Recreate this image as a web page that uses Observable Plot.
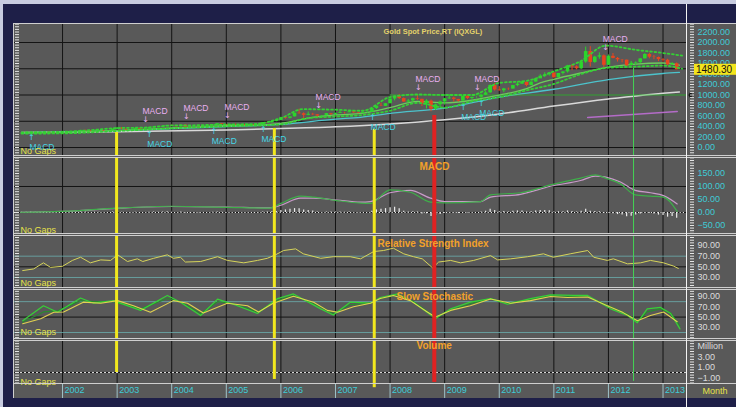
<!DOCTYPE html>
<html><head><meta charset="utf-8">
<script src="https://cdn.jsdelivr.net/npm/d3@7"></script>
<script src="https://cdn.jsdelivr.net/npm/@observablehq/plot@0.6"></script>
<style>
html,body{margin:0;padding:0;background:#1e1f48;}
#chart{position:relative;width:736px;height:407px;background:#1e1f48;overflow:hidden;font-family:"Liberation Sans",Arial,sans-serif;}
#chart .pl{position:absolute;left:0;}
#chart .bx{position:absolute;}
</style></head><body><div id="chart"></div>
<script>
// ---------------- DATA ----------------
const yearTicks = [2002,2003,2004,2005,2006,2007,2008,2009,2010,2011,2012,2013];
const titleText = "Gold Spot Price,RT (IQXGL)";

// monthly candles Apr 2001 .. Apr 2013
const opens = [
 258,264,267,271,266,273,293,279,275,
 277,282,297,302,308,326,318,304,313,324,317,319,
 347,368,347,334,336,364,346,354,375,385,386,398,
 416,400,396,427,388,393,395,391,407,416,428,452,
 438,422,434,428,435,417,437,429,433,473,470,495,
 513,569,556,583,654,643,613,633,623,599,604,646,
 632,650,665,662,680,659,650,666,673,743,789,783,
 834,923,972,933,865,886,930,918,833,884,730,814,
 869,928,942,916,883,975,934,955,955,995,1040,1182,
 1096,1081,1116,1113,1180,1207,1244,1181,1246,1307,1357,1385,
 1421,1332,1410,1439,1556,1536,1500,1628,1828,1620,1722,1746,
 1566,1737,1697,1669,1664,1561,1604,1615,1688,1772,1720,1714,
 1675,1663,1578,1596];
const highs = [
 266,272,275,272,275,294,294,283,280,
 286,298,305,310,329,330,322,315,327,326,322,349,
 383,381,352,340,369,366,360,377,392,395,399,417,
 427,419,429,428,397,396,410,415,418,430,456,457,
 438,438,447,438,436,442,439,439,475,478,496,540,
 575,574,586,654,731,660,677,652,627,610,649,650,
 655,688,670,693,691,669,683,677,744,793,845,837,
 933,978,1011,945,915,940,987,920,912,905,828,885,
 934,1003,960,917,980,988,959,966,1017,1068,1194,1227,
 1161,1128,1133,1183,1248,1265,1244,1250,1307,1388,1424,1431,
 1424,1411,1447,1565,1577,1556,1632,1913,1921,1737,1803,1764,
 1764,1791,1715,1676,1665,1640,1632,1692,1788,1796,1755,1723,
 1694,1680,1617,1611];
const lows = [
 256,262,265,264,265,271,276,273,272,
 276,281,291,300,307,316,302,300,311,311,312,318,
 343,345,321,325,335,342,342,351,372,370,381,396,
 398,392,389,373,371,386,388,390,400,412,423,430,
 418,419,423,423,415,416,418,428,430,462,467,490,
 515,541,545,582,636,543,605,611,573,560,603,610,
 603,647,635,662,650,642,649,654,667,725,778,783,
 834,887,915,864,850,863,897,780,735,682,705,747,
 807,916,866,866,882,913,905,940,931,995,1033,1075,
 1075,1045,1088,1114,1159,1201,1157,1176,1243,1315,1331,1360,
 1308,1330,1381,1418,1463,1478,1483,1604,1534,1604,1681,1522,
 1564,1690,1627,1613,1527,1553,1564,1599,1688,1690,1672,1635,
 1626,1555,1561,1480];
const closes = [
 264,267,271,266,273,293,279,275,277,
 282,297,302,308,326,318,304,313,324,317,319,347,
 368,347,334,336,364,346,354,375,385,386,398,416,
 400,396,427,388,393,395,391,407,416,428,452,438,
 422,434,428,435,417,437,429,433,473,470,495,513,
 569,556,583,654,643,613,633,623,599,604,646,632,
 650,665,662,680,659,650,666,673,743,789,783,834,
 923,972,933,865,886,930,918,833,884,730,814,869,
 928,942,916,883,975,934,955,955,995,1040,1182,1096,
 1081,1116,1113,1180,1207,1244,1181,1246,1307,1357,1385,1421,
 1332,1410,1439,1556,1536,1500,1628,1828,1620,1722,1746,1566,
 1737,1697,1669,1664,1561,1604,1615,1688,1772,1720,1714,1675,
 1663,1578,1596,1480.30];

// overlay lines
const shortMaYears = [2001.25,2002,2002.5,2003,2003.5,2004,2004.5,2005,2005.5,2006,2006.5,2007,2007.5,2008,2008.5,2009,2009.5,2010,2010.5,2010.75,2011,2011.5,2012,2012.5,2013,2013.3];
const shortMa      = [285,290,305,325,345,375,395,415,425,460,560,620,655,760,880,850,900,1000,1120,1230,1300,1420,1530,1590,1610,1570];
const midMaYears = [2001.25,2003,2004,2005,2006,2007,2007.46,2008,2009,2010,2011,2012,2013,2013.3];
const midMa      = [280,320,360,400,440,540,575,650,750,960,1110,1295,1410,1430];
const longMaYears = [2001.25,2003,2005,2006,2007,2008,2009,2010,2011,2012,2013,2013.3];
const longMa      = [285,300,335,360,395,450,530,640,790,925,1035,1058];
const upperYears = [2001.25,2002,2002.5,2003,2003.5,2004,2004.5,2005,2005.5,2006,2006.4,2007,2007.5,2008,2008.5,2009,2009.5,2010,2010.5,2011,2011.5,2011.95,2012.5,2013,2013.35];
const upperBand  = [290,300,330,370,380,420,425,440,445,560,730,720,700,960,1010,1000,1000,1230,1270,1450,1650,1940,1860,1800,1750];
const lowerYears = [2001.25,2002,2003,2004,2005,2006,2006.5,2007,2007.5,2008,2008.5,2009,2009.5,2010,2010.5,2011,2011.5,2012,2012.5,2013,2013.35];
const lowerBand  = [265,270,315,365,405,440,560,590,620,700,850,760,880,960,1090,1210,1400,1520,1540,1560,1500];
const supportLevel = 1000, supportFrom = 2008.0;
const trendYears = [2011.62, 2013.26];
const trendValues = [571, 686];

// MACD signal annotations
const sellYears  = [2003.52,2004.27,2005.02,2006.69,2008.52,2009.60,2011.95];
const sellLevels = [533,590,610,800,1143,1143,1905];
const buyYears   = [2001.43,2003.59,2004.77,2005.68,2007.68,2009.34,2009.67];
const buyLevels  = [190,248,305,343,571,762,838];

// drawn vertical marker lines
const markerYears  = [2002.99,2005.88,2007.71,2008.81,2012.46];
const markerKind   = ["yellow","yellow","yellow","red","green"];
const markerTop    = [286,362,343,610,1505];     // price units
const markerBottom = [0,-1.33,-2.9,-1.9,-1.7];   // volume units

// MACD
const macdYears = [2001.23,2002.0,2003.0,2004.0,2005.0,2005.8,2006.0,2006.36,2006.6,2007.02,2007.46,2007.64,2008.0,2008.37,2008.74,2009.01,2009.66,2009.84,2010.39,2010.94,2011.49,2011.76,2011.95,2012.22,2012.49,2012.77,2013.01,2013.26];
const macdLine  = [1,4,17,24,20,17,35,63,59,46,36,35,87,78,40,37,42,68,76,106,132,145,132,110,68,63,59,4];
const macdSig   = [1,4,16,23,21,18,28,55,55,48,40,42,76,85,55,42,42,59,70,101,123,140,136,117,85,76,65,33];
const macdHist = [
 1,1,2,1,1,3,1,0,0,
 1,2,2,2,3,2,0,1,1,0,0,2,
 3,1,-1,-1,1,-1,0,1,2,1,2,3,
 1,0,2,-2,-2,-2,-2,-1,0,1,2,1,
 -1,0,-1,0,-1,0,-1,-1,2,2,3,4,
 8,10,12,15,14,10,8,6,2,0,2,2,
 2,2,1,2,0,-1,0,0,5,10,12,15,
 18,20,14,5,2,3,2,-6,-5,-15,-12,-8,
 -3,-1,-2,-4,0,-2,0,0,2,5,12,8,
 3,4,2,5,6,6,2,3,6,8,8,7,
 2,3,3,6,4,2,5,12,5,4,3,-4,
 -2,-5,-8,-10,-16,-14,-10,-6,-2,-3,-6,-10,
 -12,-18,-15,-22];

// RSI
const rsiYears = [2001.27,2001.47,2001.65,2001.78,2002.00,2002.18,2002.33,2002.51,2002.70,2002.88,2003.01,2003.19,2003.37,2003.47,2003.67,2003.92,2004.03,2004.16,2004.25,2004.53,2004.84,2005.02,2005.32,2005.57,2005.75,2005.90,2006.05,2006.27,2006.41,2006.73,2006.96,2007.27,2007.46,2007.70,2007.88,2008.06,2008.25,2008.43,2008.59,2008.78,2008.89,2009.11,2009.29,2009.53,2009.84,2009.97,2010.21,2010.52,2010.81,2010.99,2011.30,2011.62,2011.73,2011.98,2012.09,2012.35,2012.59,2012.77,2013.01,2013.19,2013.28];
const rsiValues = [43,46,57.5,49,51,62,68,57.5,63,62,72.5,60,65,60,66,72.5,66,68,59,60,69,62,57.5,62,66,72.5,80.6,83.7,74.4,66,69,69,65,78.7,80.6,85,74.4,69,65,48,59,62,57.5,62,71,63,65,69,74.4,68,74.4,80.6,68,62,65,55.6,57.5,62,57.5,51.5,47];
const rsiBands = [70, 30];

// Slow stochastic
const stochSlowYears = [2001.27,2001.60,2001.84,2002.02,2002.38,2002.70,2003.01,2003.30,2003.61,2004.03,2004.29,2004.58,2005.02,2005.39,2005.59,2005.86,2006.23,2006.60,2006.85,2007.04,2007.33,2007.64,2007.82,2008.06,2008.37,2008.69,2008.83,2009.11,2009.47,2009.84,2010.21,2010.57,2010.94,2011.25,2011.62,2011.98,2012.27,2012.53,2012.77,2013.01,2013.26];
const stochSlow = [37,46.7,59.5,60,79,77,82,72,59.5,82,77,58,77,72,60,77,90.6,79,63,59.5,70,77,86,92,82,59.5,50,63,72,85,77,82,90,88,89,72,58.7,43,53,60,41];
const stochFastYears = [2001.27,2001.65,2001.91,2002.33,2002.57,2002.93,2003.43,2003.92,2004.16,2004.53,2004.84,2005.13,2005.57,2005.94,2006.23,2006.73,2006.96,2007.27,2007.64,2007.82,2008.14,2008.43,2008.83,2009.11,2009.47,2009.84,2010.15,2010.57,2010.94,2011.36,2011.62,2012.04,2012.35,2012.53,2012.71,2012.95,2013.14,2013.31];
const stochFast = [43,72,59.5,87,77,82,63,92,79,53,85,75,57,86,95,66,54,79,77,88,95,79,47,66,79,86,75,86,93,92,92,66,53,39,66,69,57,27];
const stochMid  = [40,60,62,82,80,80,66,86,80,57,80,76,60,82,92,70,57,74,77,86,93,80,50,63,76,86,77,84,91,90,90,70,56,41,60,66,58,33];
const stochBands = [80, 20];

// axis label values
const priceLabels = [0,200,400,600,800,1000,1200,1400,1600,1800,2000,2200];
const priceGrid = [0,500,1000,1500,2000];
const macdLabels = [150,100,50,0,-50];
const macdGrid = [0,100];
const oscLabels = [90,70,50,30];
const volLabels = [5,3,1,-1];

// ---------------- STYLE ----------------
const GRID = "#141414";
const CYAN = "#3fcbd6";
const LGRAY = "#dcdcdc";
const ORANGE = "#f2a12a";
const YELLOWTXT = "#e6e24a";
const markerStyle = {yellow:{stroke:"#f2e81e",w:3}, red:{stroke:"#e02222",w:4}, green:{stroke:"#44d454",w:1}};
const xDomain = [2001.12, 2013.43];
const FONT = "Liberation Sans, Arial, sans-serif";
const baseStyle = {background:"transparent", fontFamily: FONT, fontSize:"9px", overflow:"visible", color:"#dddddd"};

const months = d3.utcMonth.range(new Date(Date.UTC(2001,3,1)), new Date(Date.UTC(2013,4,1)));
const candles = months.map((d,i)=>({t: d.getUTCFullYear()+d.getUTCMonth()/12, open:opens[i], high:highs[i], low:lows[i], close:closes[i]}));
const hist = candles.map((c,i)=>({t:c.t, v:macdHist[i]}));
const markers = markerYears.map((t,i)=>({t, kind:markerKind[i], top:markerTop[i], bottom:markerBottom[i]}));

function sideAxes(fine, labels, fmt, color) {
  return [
    Plot.axisY(fine, {anchor:"left", tickSize:4, dx:5, tickFormat:()=>"", color:"#e6e6e6", label:null}),
    Plot.axisY(fine, {anchor:"right", tickSize:4, dx:3, tickFormat:()=>"", color:"#e6e6e6", label:null}),
    Plot.axisY(labels, {anchor:"right", tickSize:0, tickPadding:11, tickFormat:fmt, color, fontSize:9, label:null})
  ];
}
function markerRules(opts) {
  return Object.keys(markerStyle).map(k => Plot.ruleX(markers.filter(m=>m.kind===k), {x:"t", ...opts, stroke: markerStyle[k].stroke, strokeWidth: markerStyle[k].w}));
}
function titleMark(txt, dx, dy, opt={}) {
  return Plot.text([txt], {text:d=>d, frameAnchor:"top-left", dx, dy, textAnchor:"start", lineAnchor:"top", fill:ORANGE, fontWeight:"bold", fontSize:10, ...opt});
}
function noGaps(dy) {
  return Plot.text(["No Gaps"], {text:d=>d, frameAnchor:"bottom-left", dx:6, dy, textAnchor:"start", lineAnchor:"bottom", fill:YELLOWTXT, fontSize:9});
}
const fmt2 = d3.format(".2f");

// ---------------- PRICE ----------------
const priceDomain = [-152, 2362];
const up = "#2bd62b", down = "#e8451e";
const pricePlot = Plot.plot({
  width:736, height:132, marginLeft:14, marginRight:50, marginTop:0, marginBottom:0,
  x:{domain:xDomain, axis:null}, y:{domain:priceDomain, label:null}, color:{type:"identity"},
  style: baseStyle,
  marks:[
    Plot.gridX(yearTicks, {stroke:GRID, strokeOpacity:1}),
    Plot.gridY(priceGrid, {stroke:GRID, strokeOpacity:1}),
    Plot.line(longMa, {x:longMaYears, y:longMa, stroke:"#d9d9d9", strokeWidth:1.5, curve:"monotone-x"}),
    Plot.line(midMa, {x:midMaYears, y:midMa, stroke:"#4cc3cc", strokeWidth:1.3, curve:"monotone-x"}),
    Plot.ruleY([supportLevel], {x1:supportFrom, x2:xDomain[1], stroke:"#55c455", strokeWidth:1}),
    Plot.dot([supportLevel], {x:xDomain[1], y:d=>d, dx:4, symbol:"diamond", r:2.2, fill:"#111"}),
    Plot.line(trendValues, {x:trendYears, y:trendValues, stroke:"#b46cc8", strokeWidth:1.5}),
    Plot.line(shortMa, {x:shortMaYears, y:shortMa, stroke:"#6ccc5c", strokeWidth:1.3, curve:"monotone-x"}),
    Plot.ruleX(candles, {x:"t", y1:"low", y2:"high", stroke:d=>d.close>=d.open?up:down, strokeWidth:1}),
    Plot.ruleX(candles, {x:"t", y1:"open", y2:"close", stroke:d=>d.close>=d.open?up:down, strokeWidth:3.6}),
    Plot.line(upperBand, {x:upperYears, y:upperBand, stroke:"#35d035", strokeWidth:1.8, strokeDasharray:"1.8,2.6", curve:"monotone-x"}),
    Plot.line(lowerBand, {x:lowerYears, y:lowerBand, stroke:"#35d035", strokeWidth:1.8, strokeDasharray:"1.8,2.6", curve:"monotone-x"}),
    ...markerRules({y1:"top", y2:()=>priceDomain[0]}),
    Plot.text(sellYears, {x:d=>d, y:sellLevels, text:()=>"↓", fill:"#eab0f2", fontSize:8, fontFamily:"DejaVu Sans"}),
    Plot.text(sellYears, {x:d=>d, y:sellLevels, text:()=>"MACD", dx:-3, dy:-8, textAnchor:"start", fill:"#eab0f2", fontSize:8.5}),
    Plot.text(buyYears, {x:d=>d, y:buyLevels, text:()=>"↑", fill:"#45d6e6", fontSize:8, fontFamily:"DejaVu Sans"}),
    Plot.text(buyYears, {x:d=>d, y:buyLevels, text:()=>"MACD", dx:-2, dy:10, textAnchor:"start", fill:"#45d6e6", fontSize:8.5}),
    Plot.text([titleText], {text:d=>d, frameAnchor:"top-left", dx:369, dy:5, textAnchor:"start", lineAnchor:"top", fill:"#e4d26a", fontWeight:"bold", fontSize:7.5}),
    noGaps(-2),
    ...sideAxes(d3.range(-150, 2362, 50), priceLabels, fmt2, CYAN)
  ]
});

// ---------------- MACD ----------------
const macdDomain = [-80.8, 211.5];
const macdPlot = Plot.plot({
  width:736, height:76, marginLeft:14, marginRight:50, marginTop:0, marginBottom:0,
  x:{domain:xDomain, axis:null}, y:{domain:macdDomain, label:null},
  style: baseStyle,
  marks:[
    Plot.gridX(yearTicks, {stroke:GRID, strokeOpacity:1}),
    Plot.gridY(macdGrid, {stroke:GRID, strokeOpacity:1}),
    Plot.ruleY([0], {stroke:"#e8e8e8", strokeDasharray:"1.2,2"}),
    Plot.ruleX(hist, {x:"t", y1:0, y2:"v", stroke:"#ececec", strokeWidth:1.2}),
    Plot.line(macdSig, {x:macdYears, y:macdSig, stroke:"#c99ac9", strokeWidth:1.2, curve:"monotone-x"}),
    Plot.line(macdLine, {x:macdYears, y:macdLine, stroke:"#3fae4a", strokeWidth:1.2, curve:"monotone-x"}),
    ...markerRules({}),
    titleMark("MACD", 405, 5),
    noGaps(-1),
    ...sideAxes(d3.range(-80, 212, 10), macdLabels, fmt2, CYAN)
  ]
});

// ---------------- RSI ----------------
const rsiDomain = [11.2, 108.8];
const rsiPlot = Plot.plot({
  width:736, height:52, marginLeft:14, marginRight:50, marginTop:0, marginBottom:0,
  x:{domain:xDomain, axis:null}, y:{domain:rsiDomain, label:null},
  style: baseStyle,
  marks:[
    Plot.gridX(yearTicks, {stroke:GRID, strokeOpacity:1}),
    Plot.gridY([50], {stroke:GRID, strokeOpacity:1}),
    Plot.ruleY(rsiBands, {stroke:"#6aaeae", strokeOpacity:0.8}),
    Plot.line(rsiValues, {x:rsiYears, y:rsiValues, stroke:"#d6d45a", strokeWidth:1}),
    ...markerRules({}),
    titleMark("Relative Strength Index", 363, 4),
    noGaps(-2),
    ...sideAxes(d3.range(15, 108, 5), oscLabels, fmt2, LGRAY)
  ]
});

// ---------------- STOCHASTIC ----------------
const stochDomain = [8.4, 103.6];
const stochPlot = Plot.plot({
  width:736, height:49, marginLeft:14, marginRight:50, marginTop:0, marginBottom:0,
  x:{domain:xDomain, axis:null}, y:{domain:stochDomain, label:null},
  style: baseStyle,
  marks:[
    Plot.gridX(yearTicks, {stroke:GRID, strokeOpacity:1}),
    Plot.gridY([50], {stroke:GRID, strokeOpacity:1}),
    Plot.ruleY(stochBands, {stroke:"#6aaeae", strokeOpacity:0.8}),
    Plot.line(stochMid, {x:stochFastYears, y:stochMid, stroke:"#2a8a2e", strokeWidth:1.2}),
    Plot.line(stochFast, {x:stochFastYears, y:stochFast, stroke:"#36d236", strokeWidth:1.2}),
    Plot.line(stochSlow, {x:stochSlowYears, y:stochSlow, stroke:"#e2d250", strokeWidth:1.1}),
    ...markerRules({}),
    titleMark("Slow Stochastic", 382, 3),
    noGaps(-4),
    ...sideAxes(d3.range(10, 103, 5), oscLabels, fmt2, LGRAY)
  ]
});

// ---------------- VOLUME + X AXIS ----------------
const volDomain = [-2.1, 6.1];
const volPlot = Plot.plot({
  width:736, height:58, marginLeft:14, marginRight:50, marginTop:0, marginBottom:15,
  x:{domain:xDomain}, y:{domain:volDomain, label:null},
  style: baseStyle,
  marks:[
    Plot.gridX(yearTicks, {stroke:GRID, strokeOpacity:1}),
    Plot.ruleY([0], {stroke:"#d8d8d8", strokeWidth:1}),
    Plot.ruleY([0], {stroke:"#101010", strokeWidth:1, strokeDasharray:"2,2"}),
    ...markerRules({y1:()=>volDomain[1], y2:"bottom"}),
    titleMark("Volume", 402, 1),
    noGaps(1),
    ...sideAxes(d3.range(-2, 6.1, 0.5), volLabels, d=>d===5?"Million":fmt2(d), LGRAY),
    Plot.axisX(yearTicks, {anchor:"bottom", tickSize:15, tickFormat:()=>"", color:"#9fc2c8", label:null}),
    Plot.axisX(yearTicks, {anchor:"bottom", tickSize:0, tickPadding:3, tickFormat:d=>String(d), textAnchor:"start", dx:2, color:CYAN, fontSize:9, label:null}),
    Plot.text(["Month"], {text:d=>d, frameAnchor:"bottom-right", dx:16, dy:8, textAnchor:"start", lineAnchor:"middle", fill:YELLOWTXT, fontSize:9})
  ]
});

// ---------------- LAYOUT ----------------
const root = document.getElementById("chart");
function box(l,t,w,h,bg){const d=document.createElement("div");d.className="bx";Object.assign(d.style,{left:l+"px",top:t+"px",width:w+"px",height:h+"px",background:bg});root.appendChild(d);}
box(0,0,736,4,"#c8cce0");
box(0,0,3,407,"#c8cce0");
box(13,23,723,375,"#595959");
function place(p, top){const d=document.createElement("div");d.className="pl";d.style.top=top+"px";d.appendChild(p);root.appendChild(d);}
place(pricePlot, 23);
place(macdPlot, 157);
place(rsiPlot, 235);
place(stochPlot, 289);
place(volPlot, 340);
// panel separators
[23,155,157,233,235,287,289,338,340,383].forEach(y=>box(13,y,723,1,"#cfcfcf"));
box(13,23,1,375,"#cfcfcf");
box(686,4,1,403,"#f2f2f2");

// last price tag on the price scale
const yy = pricePlot.scale("y").apply(closes[closes.length-1]);
const sel = d3.select(pricePlot);
sel.append("rect").attr("x",694).attr("y",yy-5.5).attr("width",42).attr("height",11).attr("fill","#f4e51c");
sel.append("text").attr("x",696).attr("y",yy).attr("dy","0.35em").attr("text-anchor","start").attr("font-size",10).attr("font-family",FONT).attr("fill","#111").text(closes[closes.length-1].toFixed(2));
</script></body></html>
